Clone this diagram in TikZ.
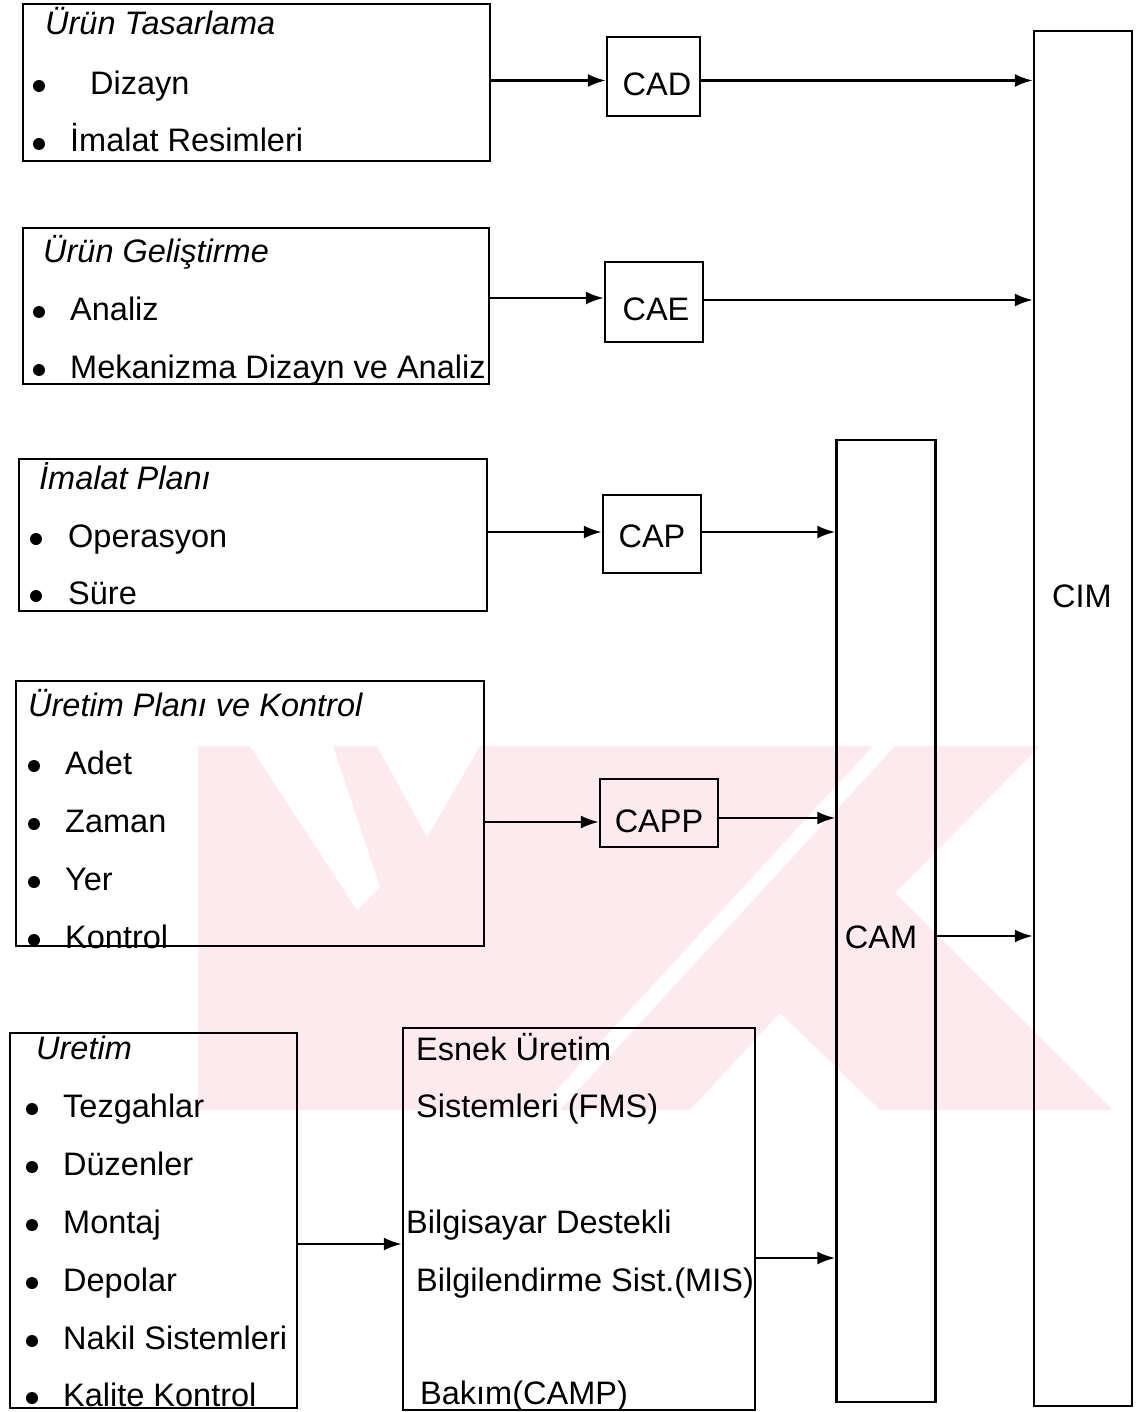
\documentclass[tikz,border=0pt]{standalone}
\usepackage{fontspec}
\setmainfont{Liberation Sans}
\usetikzlibrary{arrows.meta}
\definecolor{wm}{RGB}{253,234,238}
\tikzset{
  box/.style={draw, line width=2.4pt, inner sep=0pt},
  txt/.style={anchor=base west, inner sep=0pt, font=\fontsize{32.5}{36}\selectfont},
  ttl/.style={txt, font=\fontsize{32.5}{36}\selectfont\itshape},
  ctr/.style={inner sep=0pt, font=\fontsize{32.5}{36}\selectfont},
  bul/.style={circle, fill, inner sep=0pt, minimum size=12pt},
  arr/.style={line width=2.4pt, -{Latex[length=18pt,width=13pt]}},
}
\begin{document}
\begin{tikzpicture}[x=1pt,y=-1pt]
\useasboundingbox (0,0) rectangle (1136,1412);
% watermark
\begin{scope}
\clip (198,746) rectangle (1115,1110);
\fill[wm] (198,746) -- (1040,746) -- (895,893) -- (1113,1110) -- (198,1110) -- cycle;
\fill[white] (250,746) -- (333,746) -- (380,887) -- (357,910) -- cycle;
\fill[white] (377,746) -- (480,746) -- (427,837) -- cycle;
\fill[white] (873,746) -- (895,746) -- (560,1110) -- (538,1110) -- cycle;
\fill[white] (780,1013) -- (880,1110) -- (690,1110) -- cycle;
\end{scope}
% boxes
\node[box, minimum width=467pt, minimum height=157pt] (b1) at (256.5,82.5) {};
\node[box, minimum width=466pt, minimum height=156pt] (b2) at (256,306) {};
\node[box, minimum width=468pt, minimum height=152pt] (b3) at (253,535) {};
\node[box, minimum width=468pt, minimum height=265pt] (b4) at (250,813.5) {};
\node[box, minimum width=287pt, minimum height=375pt] (b5) at (153.5,1220.5) {};
\node[box, minimum width=352pt, minimum height=382pt] (b6) at (579,1219) {};
\node[box, minimum width=93pt, minimum height=79pt] (cad) at (653.5,76.5) {};
\node[box, minimum width=98pt, minimum height=80pt] (cae) at (654,302) {};
\node[box, minimum width=98pt, minimum height=78pt] (cap) at (652,534) {};
\node[box, minimum width=118pt, minimum height=68pt] (capp) at (659,813) {};
\node[box, minimum width=99pt, minimum height=962pt] (cam) at (886,921) {};
\node[box, minimum width=98pt, minimum height=1375pt] (cim) at (1083,718.5) {};
% box texts
\node[ttl] (t1) at (45,35) {Ürün Tasarlama};
\node[bul] (u11) at (39,86) {};
\node[txt] (x11) at (90,95) {Dizayn};
\node[bul] (u12) at (39,144) {};
\node[txt] (x12) at (70,152) {İmalat Resimleri};
\node[ttl] (t2) at (43,263) {Ürün Geliştirme};
\node[bul] (u21) at (39,312) {};
\node[txt] (x21) at (70,320) {Analiz};
\node[bul] (u22) at (39,370) {};
\node[txt] (x22) at (70,378) {Mekanizma Dizayn ve Analiz};
\node[ttl] (t3) at (39,489) {İmalat Planı};
\node[bul] (u31) at (36,539) {};
\node[txt] (x31) at (68,547) {Operasyon};
\node[bul] (u32) at (36,596) {};
\node[txt] (x32) at (68,604) {Süre};
\node[ttl] (t4) at (28,716) {Üretim Planı ve Kontrol};
\node[bul] (u41) at (34,766) {};
\node[txt] (x41) at (65,774) {Adet};
\node[bul] (u42) at (34,824) {};
\node[txt] (x42) at (65,832) {Zaman};
\node[bul] (u43) at (34,882) {};
\node[txt] (x43) at (65,890) {Yer};
\node[bul] (u44) at (34,940) {};
\node[txt] (x44) at (65,948) {Kontrol};
\node[ttl] (t5) at (36,1059) {Uretim};
\node[bul] (u51) at (32,1109) {};
\node[txt] (x51) at (63,1117) {Tezgahlar};
\node[bul] (u52) at (32,1167) {};
\node[txt] (x52) at (63,1175) {Düzenler};
\node[bul] (u53) at (32,1225) {};
\node[txt] (x53) at (63,1233) {Montaj};
\node[bul] (u54) at (32,1283) {};
\node[txt] (x54) at (63,1291) {Depolar};
\node[bul] (u55) at (32,1341) {};
\node[txt] (x55) at (63,1349) {Nakil Sistemleri};
\node[bul] (u56) at (32,1398) {};
\node[txt] (x56) at (63,1406) {Kalite Kontrol};
\node[txt] (x61) at (416,1060) {Esnek Üretim};
\node[txt] (x62) at (416,1117) {Sistemleri (FMS)};
\node[txt] (x63) at (406,1233) {Bilgisayar Destekli};
\node[txt] (x64) at (416,1291) {Bilgilendirme Sist.(MIS)};
\node[txt] (x65) at (420,1404) {Bakım(CAMP)};
% block labels
\node[ctr] (lcad) at (657,84) {CAD};
\node[ctr] (lcae) at (656,309) {CAE};
\node[ctr] (lcap) at (652,536) {CAP};
\node[ctr] (lcapp) at (659,821) {CAPP};
\node[ctr] (lcam) at (881,937) {CAM};
\node[ctr] (lcim) at (1082,596) {CIM};
% connectors
\coordinate (a1) at ([yshift=2pt]b1.east);
\draw[arr] (a1) -- (a1 -| cad.west);
\coordinate (a2) at ([yshift=-4pt]cad.east);
\draw[arr] (a2) -- (a2 -| cim.west);
\coordinate (a3) at ([yshift=8pt]b2.east);
\draw[arr] (a3) -- (a3 -| cae.west);
\coordinate (a4) at ([yshift=2pt]cae.east);
\draw[arr] (a4) -- (a4 -| cim.west);
\coordinate (a5) at ([yshift=3pt]b3.east);
\draw[arr] (a5) -- (a5 -| cap.west);
\coordinate (a6) at ([yshift=2pt]cap.east);
\draw[arr] (a6) -- (a6 -| cam.west);
\coordinate (a7) at ([yshift=-8.5pt]b4.east);
\draw[arr] (a7) -- (a7 -| capp.west);
\coordinate (a8) at ([yshift=-5pt]capp.east);
\draw[arr] (a8) -- (a8 -| cam.west);
\coordinate (a9) at ([yshift=-15pt]cam.east);
\draw[arr] (a9) -- (a9 -| cim.west);
\coordinate (a10) at ([yshift=-23.5pt]b5.east);
\draw[arr] (a10) -- (a10 -| b6.west);
\coordinate (a11) at ([yshift=-39pt]b6.east);
\draw[arr] (a11) -- (a11 -| cam.west);
\end{tikzpicture}
\end{document}
